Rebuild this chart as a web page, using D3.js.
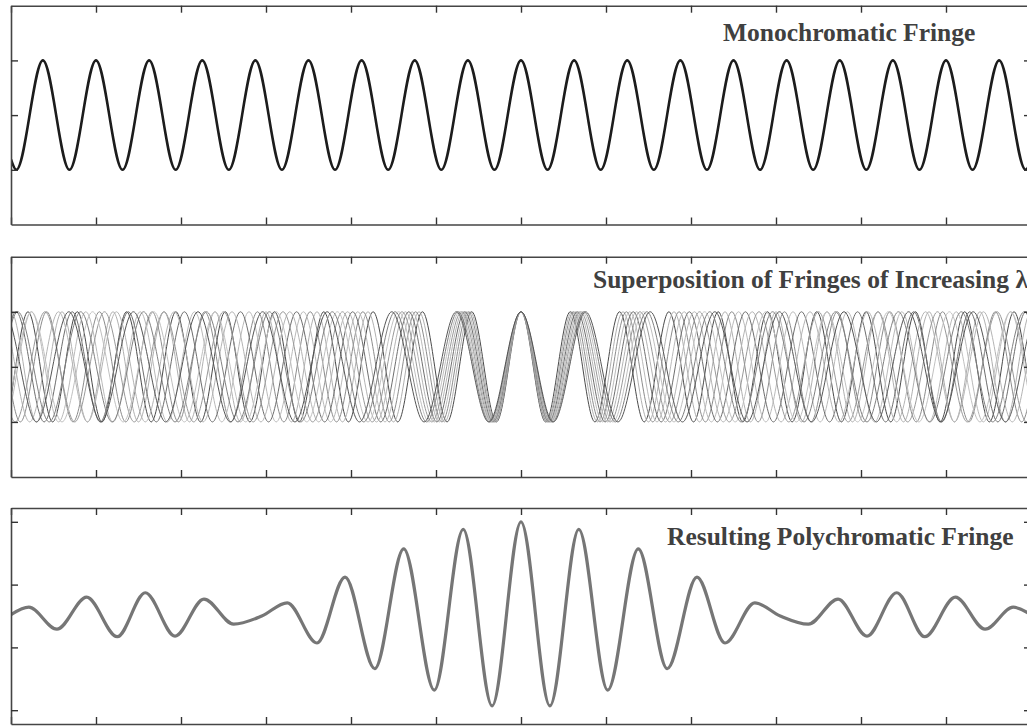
<!DOCTYPE html>
<html>
<head>
<meta charset="utf-8">
<script src="https://cdn.jsdelivr.net/npm/d3@7"></script>
<style>
  body { margin: 0; background: #fff; }
  svg { display: block; }
  .frame path.domain { stroke: #454545; stroke-width: 1.6; }
  .frame .tick line { stroke: #333; stroke-width: 1.4; }
  .fringe-title {
    font-family: 'Liberation Serif', 'Times New Roman', serif;
    font-weight: bold;
    font-size: 25.5px;
    fill: #404040;
  }
</style>
</head>
<body>
<svg id="chart"></svg>
<script>
// optical path difference in tick units, 0 = zero path difference
const xTicks = [-6, -5, -4, -3, -2, -1, 0, 1, 2, 3, 4, 5, 6];
const yTicksFringe = [-1, 0, 1];
const yTicksPoly = [0, 1, 2, 3];

const titles = [
  'Monochromatic Fringe',
  'Superposition of Fringes of Increasing λ',
  'Resulting Polychromatic Fringe'
];

// monochromatic fringe: turning points (plus the two edges)
const monoX = [-6, -5.9375, -5.625, -5.3125, -5, -4.6875, -4.375, -4.0625, -3.75, -3.4375,
  -3.125, -2.8125, -2.5, -2.1875, -1.875, -1.5625, -1.25, -0.9375, -0.625, -0.3125,
  0, 0.3125, 0.625, 0.9375, 1.25, 1.5625, 1.875, 2.1875, 2.5, 2.8125,
  3.125, 3.4375, 3.75, 4.0625, 4.375, 4.6875, 5, 5.3125, 5.625, 5.9375, 6];
const monoY = [-0.81, -1, 1, -1, 1, -1, 1, -1, 1, -1, 1, -1, 1, -1, 1, -1, 1, -1, 1, -1,
  1, -1, 1, -1, 1, -1, 1, -1, 1, -1, 1, -1, 1, -1, 1, -1, 1, -1, 1, -1, -0.81];

// superposed fringes: one wavelength per curve, all in phase at 0
const fringeWavelengths = [0.58, 0.60, 0.62, 0.64, 0.66, 0.68, 0.70, 0.72, 0.74, 0.76];
const fringeShades = ['#4a4a4a', '#b0b0b0', '#8c8c8c', '#bababa', '#6e6e6e',
  '#b4b4b4', '#999999', '#c0c0c0', '#808080', '#555555'];

// resulting polychromatic fringe: turning points
const polyX = [-6, -5.79, -5.46, -5.11, -4.75, -4.42, -4.07, -3.73, -3.38, -3.05, -2.75, -2.40,
  -2.07, -1.72, -1.38, -1.02, -0.68, -0.34, 0, 0.34, 0.68, 1.02, 1.38, 1.72, 2.07,
  2.40, 2.75, 3.05, 3.38, 3.73, 4.07, 4.42, 4.75, 5.11, 5.46, 5.79, 6];
const polyY = [1.52, 1.64, 1.29, 1.80, 1.17, 1.87, 1.18, 1.77, 1.37, 1.50, 1.71, 1.07,
  2.12, 0.66, 2.57, 0.32, 2.88, 0.07, 3.00, 0.07, 2.88, 0.32, 2.57, 0.66, 2.12,
  1.07, 1.71, 1.50, 1.37, 1.77, 1.18, 1.87, 1.17, 1.80, 1.29, 1.64, 1.52];


class FringePanel {

  constructor(_config) {
    this.config = {
      parentElement: _config.parentElement,
      id: _config.id,
      left: 11,
      top: _config.top,
      width: 1020,
      height: _config.height,
      yDomain: _config.yDomain,
      yTicks: _config.yTicks,
      tickSize: 7,
      title: _config.title,
      titleX: _config.titleX,
      titleDy: _config.titleDy
    }
    this.initVis();
  }

  initVis() {
    let vis = this;

    vis.chart = d3.select(vis.config.parentElement).append('g')
      .attr('transform', `translate(${vis.config.left}, ${vis.config.top})`);

    vis.xScale = d3.scaleLinear()
      .domain([-6, 6])
      .range([0, vis.config.width]);

    vis.yScale = d3.scaleLinear()
      .domain(vis.config.yDomain)
      .range([vis.config.height, 0]);

    vis.chart.append('clipPath')
      .attr('id', 'clip-' + vis.config.id)
      .append('rect')
      .attr('width', vis.config.width)
      .attr('height', vis.config.height);

    vis.plot = vis.chart.append('g')
      .attr('clip-path', `url(#clip-${vis.config.id})`);

    vis.line = d3.line()
      .x(d => vis.xScale(d[0]))
      .y(d => vis.yScale(d[1]))
      .curve(d3.curveMonotoneX);
  }

  addCurve(points, color, width) {
    let vis = this;
    vis.plot.append('path')
      .datum(points)
      .attr('fill', 'none')
      .attr('stroke', color)
      .attr('stroke-width', width)
      .attr('stroke-linejoin', 'round')
      .attr('d', vis.line);
  }

  renderFrame() {
    let vis = this;
    const t = -vis.config.tickSize;

    vis.chart.append('g')
      .attr('class', 'frame')
      .call(d3.axisTop(vis.xScale).tickValues(xTicks).tickSizeInner(t).tickSizeOuter(0).tickFormat(''));

    vis.chart.append('g')
      .attr('class', 'frame')
      .attr('transform', `translate(0, ${vis.config.height})`)
      .call(d3.axisBottom(vis.xScale).tickValues(xTicks).tickSizeInner(t).tickSizeOuter(0).tickFormat(''));

    vis.chart.append('g')
      .attr('class', 'frame')
      .call(d3.axisLeft(vis.yScale).tickValues(vis.config.yTicks).tickSizeInner(t).tickSizeOuter(0).tickFormat(''));

    vis.chart.append('g')
      .attr('class', 'frame')
      .attr('transform', `translate(${vis.config.width}, 0)`)
      .call(d3.axisRight(vis.yScale).tickValues(vis.config.yTicks).tickSizeInner(t).tickSizeOuter(0).tickFormat(''));

    vis.chart.append('text')
      .attr('class', 'fringe-title')
      .attr('x', vis.config.titleX - vis.config.left)
      .attr('y', vis.config.titleDy)
      .text(vis.config.title);
  }
}


const svg = d3.select('#chart')
  .attr('width', 1027)
  .attr('height', 726);

// top: single wavelength
const mono = new FringePanel({
  parentElement: '#chart', id: 'mono',
  top: 5.7, height: 218.8,
  yDomain: [-2, 2], yTicks: yTicksFringe,
  title: titles[0], titleX: 723, titleDy: 35.5
});
mono.addCurve(monoX.map((x, i) => [x, monoY[i]]), '#1c1c1c', 2.6);
mono.renderFrame();

// middle: many wavelengths drawn on top of each other
const superpos = new FringePanel({
  parentElement: '#chart', id: 'superpos',
  top: 256.7, height: 220.3,
  yDomain: [-2, 2], yTicks: yTicksFringe,
  title: titles[1], titleX: 593, titleDy: 31
});
fringeWavelengths.forEach((lambda, i) => {
  let half = lambda / 2;
  let n = Math.ceil(6.5 / half);
  let pts = d3.range(-n, n + 1).map(k => [k * half, Math.abs(k) % 2 === 0 ? 1 : -1]);
  superpos.addCurve(pts, fringeShades[i], 1.0);
});
superpos.renderFrame();

// bottom: the sum
const poly = new FringePanel({
  parentElement: '#chart', id: 'poly',
  top: 508, height: 216,
  yDomain: [-0.22, 3.22], yTicks: yTicksPoly,
  title: titles[2], titleX: 667, titleDy: 37
});
poly.addCurve(polyX.map((x, i) => [x, polyY[i]]), '#767676', 3.2);
poly.renderFrame();
</script>
</body>
</html>
